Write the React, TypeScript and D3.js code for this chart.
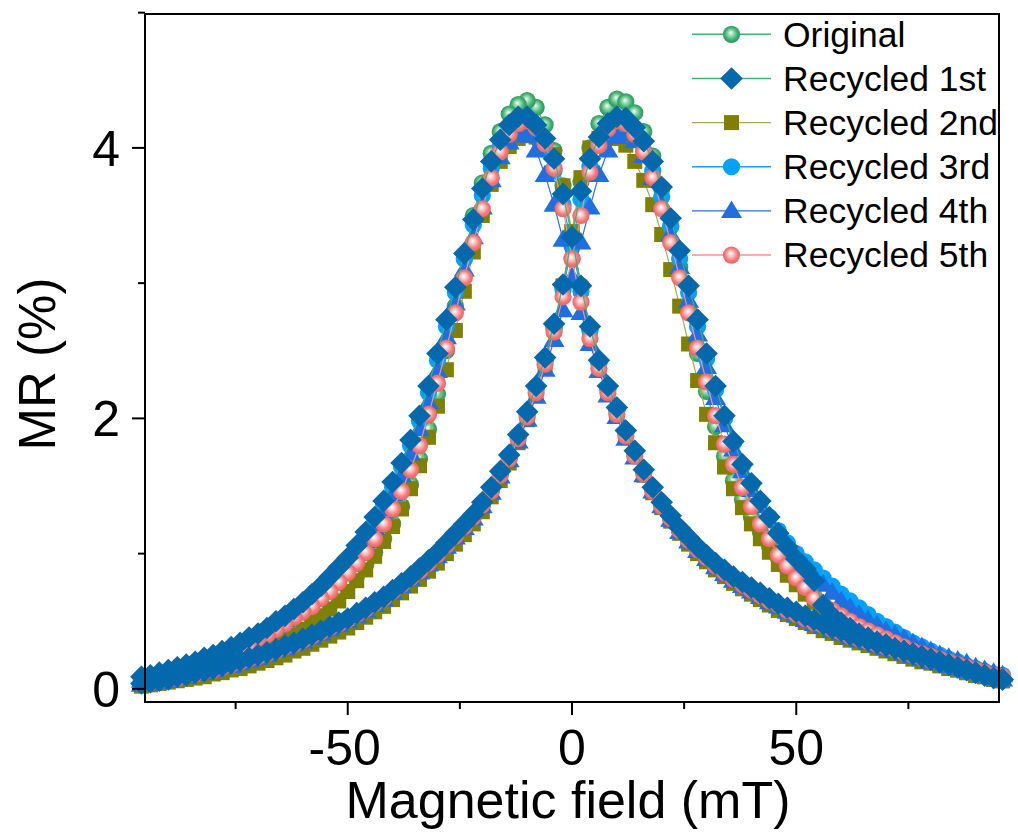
import React from 'react';
import * as d3 from 'd3';

// Magnetic field values (mT), one per sweep point
const FIELDS: number[] = d3.range(-96, 97, 2);

// MR (%) for each sample; "down" = branch peaking at negative field, "up" = branch peaking at positive field
// values listed for fields -96 ... 96 (ascending)
const ORIGINAL_DOWN = [0.06,0.07,0.09,0.11,0.12,0.14,0.16,0.18,0.20,0.22, 0.24,0.27,0.29,0.32,0.35,0.39,0.42,0.46,0.50,0.55, 0.60,0.65,0.71,0.77,0.84,0.92,1.01,1.11,1.22,1.35, 1.51,1.70,1.92,2.18,2.50,2.83,3.18,3.50,3.74,3.96, 4.12,4.25,4.32,4.35,4.30,4.17,3.98,3.72, 3.36, 2.98,2.66,2.41,2.22,2.06,1.90,1.75,1.61,1.48,1.36, 1.26,1.17,1.09,1.02,0.96,0.90,0.85,0.80,0.76,0.72, 0.68,0.64,0.60,0.57,0.54,0.51,0.48,0.45,0.43,0.40, 0.38,0.36,0.34,0.32,0.30,0.28,0.26,0.24,0.22,0.20, 0.18,0.17,0.15,0.13,0.11,0.10,0.08,0.07];
const ORIGINAL_UP = [0.04,0.05,0.06,0.07,0.08,0.09,0.11,0.12,0.14,0.16, 0.18,0.20,0.22,0.24,0.26,0.28,0.30,0.33,0.35,0.38, 0.41,0.44,0.47,0.50,0.54,0.58,0.62,0.66,0.71,0.76, 0.81,0.86,0.92,0.98,1.05,1.12,1.19,1.27,1.36,1.47, 1.59,1.72,1.87,2.04,2.23,2.43,2.67,2.97, 3.36, 3.75,4.00,4.18,4.30,4.36,4.34,4.26,4.12,3.94,3.70, 3.42,3.12,2.80,2.48,2.20,1.94,1.72,1.54,1.40,1.27, 1.16,1.06,0.97,0.89,0.81,0.74,0.68,0.62,0.57,0.52, 0.48,0.44,0.41,0.38,0.35,0.32,0.29,0.27,0.25,0.23, 0.21,0.19,0.17,0.15,0.13,0.11,0.09,0.08];

const REC1_DOWN = [0.09,0.10,0.12,0.14,0.16,0.18,0.20,0.23,0.25,0.28, 0.31,0.34,0.38,0.41,0.45,0.50,0.54,0.59,0.64,0.70, 0.76,0.83,0.90,0.97,1.06,1.16,1.27,1.39,1.53,1.67, 1.84,2.02,2.24,2.48,2.73,2.97,3.22,3.47,3.70,3.90, 4.06,4.17,4.23,4.23,4.17,4.07,3.92,3.66, 3.34, 2.98,2.68,2.43,2.24,2.08,1.91,1.76,1.62,1.49,1.38, 1.28,1.19,1.12,1.05,0.99,0.93,0.88,0.83,0.79,0.75, 0.71,0.67,0.63,0.60,0.57,0.54,0.51,0.48,0.45,0.43, 0.40,0.38,0.36,0.34,0.32,0.30,0.28,0.26,0.24,0.22, 0.20,0.18,0.16,0.14,0.12,0.10,0.08,0.07];
const REC1_UP = [0.04,0.05,0.06,0.07,0.09,0.10,0.12,0.13,0.15,0.17, 0.19,0.21,0.23,0.25,0.27,0.29,0.32,0.34,0.37,0.40, 0.43,0.46,0.49,0.52,0.56,0.60,0.64,0.68,0.73,0.78, 0.83,0.89,0.95,1.01,1.08,1.15,1.22,1.29,1.38,1.49, 1.61,1.73,1.88,2.05,2.24,2.45,2.70,2.99, 3.34, 3.68,3.92,4.08,4.18,4.23,4.22,4.15,4.05,3.90,3.71, 3.48,3.24,2.98,2.73,2.48,2.24,2.02,1.83,1.66,1.52, 1.39,1.27,1.15,1.05,0.96,0.89,0.80,0.62,0.54,0.49, 0.45,0.41,0.38,0.35,0.33,0.30,0.28,0.26,0.24,0.22, 0.20,0.18,0.16,0.14,0.12,0.10,0.08,0.07];

const REC2_DOWN = [0.04,0.05,0.06,0.08,0.09,0.11,0.12,0.14,0.16,0.18, 0.20,0.22,0.24,0.27,0.30,0.33,0.36,0.40,0.44,0.49, 0.54,0.59,0.65,0.72,0.80,0.88,0.98,1.09,1.20,1.33, 1.48,1.65,1.86,2.09,2.36,2.65,2.94,3.23,3.50,3.73, 3.90,4.01,4.07,4.09,4.08,4.03,3.95,3.72, 3.38, 2.96,2.65,2.40,2.20,2.04,1.87,1.72,1.58,1.45,1.34, 1.24,1.15,1.07,1.00,0.94,0.88,0.83,0.78,0.74,0.70, 0.66,0.62,0.58,0.55,0.52,0.49,0.46,0.43,0.41,0.38, 0.36,0.34,0.32,0.30,0.28,0.26,0.24,0.22,0.20,0.19, 0.17,0.15,0.14,0.12,0.10,0.09,0.07,0.06];
const REC2_UP = [0.02,0.03,0.04,0.05,0.06,0.07,0.08,0.09,0.11,0.12, 0.14,0.15,0.17,0.19,0.21,0.23,0.25,0.28,0.30,0.33, 0.36,0.39,0.42,0.45,0.49,0.53,0.57,0.61,0.66,0.71, 0.76,0.81,0.87,0.93,1.00,1.07,1.14,1.22,1.31,1.42, 1.54,1.67,1.82,1.99,2.18,2.40,2.66,2.98, 3.38, 3.78,4.00,4.07,4.09,4.07,4.02,3.90,3.76,3.58,3.36, 3.10,2.83,2.55,2.28,2.03,1.82,1.64,1.48,1.34,1.22, 1.11,1.01,0.92,0.84,0.77,0.70,0.64,0.59,0.54,0.49, 0.45,0.41,0.38,0.35,0.32,0.29,0.26,0.24,0.22,0.20, 0.18,0.16,0.14,0.12,0.10,0.09,0.07,0.06];

const REC3_DOWN = [0.08,0.09,0.11,0.13,0.15,0.17,0.19,0.22,0.24,0.27, 0.30,0.33,0.36,0.40,0.44,0.48,0.53,0.58,0.63,0.68, 0.74,0.81,0.88,0.95,1.04,1.13,1.24,1.36,1.49,1.64, 1.80,1.98,2.19,2.43,2.68,2.93,3.18,3.43,3.65,3.85, 4.01,4.11,4.16,4.16,4.10,3.99,3.83,3.58, 3.28, 2.94,2.65,2.41,2.22,2.06,1.90,1.75,1.61,1.48,1.37, 1.27,1.18,1.11,1.04,0.98,0.92,0.87,0.82,0.78,0.74, 0.70,0.66,0.62,0.59,0.56,0.53,0.50,0.47,0.44,0.42, 0.39,0.37,0.35,0.33,0.31,0.29,0.27,0.25,0.23,0.21, 0.19,0.17,0.15,0.13,0.11,0.10,0.08,0.07];
const REC3_UP = [0.04,0.05,0.06,0.07,0.08,0.10,0.11,0.13,0.15,0.16, 0.18,0.20,0.22,0.24,0.26,0.29,0.31,0.34,0.36,0.39, 0.42,0.45,0.48,0.52,0.55,0.59,0.63,0.67,0.72,0.77, 0.82,0.88,0.94,1.00,1.07,1.14,1.21,1.28,1.37,1.48, 1.60,1.72,1.87,2.03,2.22,2.43,2.67,2.95, 3.28, 3.62,3.86,4.02,4.12,4.16,4.15,4.08,3.98,3.83,3.64, 3.42,3.18,2.93,2.68,2.44,2.21,2.00,1.82,1.65,1.51, 1.38,1.27,1.17,1.08,1.00,0.94,0.88,0.82,0.76,0.70, 0.65,0.60,0.55,0.50,0.46,0.42,0.38,0.34,0.31,0.28, 0.25,0.22,0.20,0.17,0.15,0.13,0.11,0.10];

const REC4_DOWN = [0.06,0.07,0.09,0.11,0.13,0.15,0.17,0.20,0.22,0.25, 0.28,0.31,0.34,0.38,0.42,0.46,0.51,0.56,0.61,0.66, 0.72,0.78,0.85,0.92,1.00,1.09,1.19,1.31,1.44,1.58, 1.74,1.92,2.12,2.35,2.60,2.85,3.10,3.34,3.56,3.76, 3.93,4.04,4.10,4.09,3.98,3.80,3.58,3.32, 3.04, 2.78,2.55,2.35,2.17,2.01,1.85,1.71,1.58,1.46,1.35, 1.25,1.16,1.09,1.02,0.96,0.90,0.85,0.80,0.76,0.72, 0.68,0.64,0.61,0.57,0.54,0.51,0.48,0.46,0.43,0.41, 0.38,0.36,0.34,0.32,0.30,0.28,0.26,0.24,0.22,0.20, 0.19,0.17,0.15,0.13,0.12,0.10,0.08,0.07];
const REC4_UP = [0.03,0.04,0.05,0.06,0.08,0.09,0.11,0.12,0.14,0.16, 0.17,0.19,0.21,0.23,0.25,0.28,0.30,0.33,0.35,0.38, 0.41,0.44,0.47,0.50,0.54,0.58,0.62,0.66,0.71,0.76, 0.81,0.86,0.92,0.98,1.05,1.12,1.19,1.26,1.35,1.45, 1.57,1.69,1.83,1.99,2.16,2.36,2.58,2.80, 3.04, 3.30,3.56,3.80,3.98,4.08,4.10,4.05,3.94,3.78,3.58, 3.36,3.12,2.87,2.62,2.38,2.15,1.95,1.77,1.61,1.47, 1.35,1.24,1.14,1.05,0.97,0.90,0.83,0.77,0.71,0.65, 0.60,0.55,0.51,0.47,0.43,0.40,0.37,0.34,0.31,0.28, 0.25,0.23,0.21,0.19,0.16,0.14,0.12,0.10];

const REC5_DOWN = [0.08,0.09,0.11,0.13,0.15,0.17,0.19,0.21,0.23,0.25, 0.27,0.29,0.32,0.37,0.40,0.44,0.48,0.53,0.57,0.61, 0.67,0.72,0.79,0.86,0.93,1.01,1.11,1.22,1.33,1.46, 1.62,1.80,2.03,2.26,2.52,2.78,3.04,3.30,3.55,3.78, 3.97,4.10,4.18,4.20,4.15,4.03,3.85,3.55, 3.18, 2.86,2.59,2.37,2.19,2.03,1.87,1.72,1.59,1.46,1.35, 1.26,1.17,1.10,1.03,0.97,0.91,0.86,0.81,0.77,0.73, 0.69,0.65,0.62,0.58,0.55,0.52,0.49,0.47,0.44,0.42, 0.39,0.37,0.35,0.33,0.31,0.29,0.27,0.25,0.23,0.21, 0.20,0.18,0.16,0.14,0.12,0.10,0.09,0.08];
const REC5_UP = [0.04,0.05,0.06,0.07,0.08,0.10,0.11,0.13,0.14,0.16, 0.18,0.20,0.22,0.24,0.26,0.28,0.31,0.33,0.36,0.39, 0.42,0.45,0.48,0.51,0.55,0.59,0.63,0.67,0.72,0.77, 0.82,0.87,0.93,0.99,1.06,1.13,1.20,1.27,1.36,1.46, 1.58,1.70,1.85,2.01,2.19,2.40,2.64,2.90, 3.18, 3.50,3.82,4.02,4.14,4.20,4.18,4.10,3.97,3.78,3.55, 3.30,3.04,2.78,2.52,2.27,2.02,1.81,1.66,1.49,1.35, 1.22,1.11,0.99,0.91,0.82,0.75,0.67,0.62,0.58,0.54, 0.50,0.46,0.43,0.40,0.37,0.34,0.31,0.28,0.26,0.24, 0.22,0.20,0.18,0.16,0.14,0.12,0.10,0.09];

const SERIES_NAMES = ['Original', 'Recycled 1st', 'Recycled 2nd', 'Recycled 3rd', 'Recycled 4th', 'Recycled 5th'];
const X_TICKS = [-50, 0, 50];
const X_MINOR = [-75, -25, 25, 75];
const Y_TICKS = [0, 2, 4];
const Y_MINOR = [1, 3, 5];

type Shape = 'sphereG' | 'sphereP' | 'diamond' | 'square' | 'circle' | 'triangle';
interface Series { name: string; down: number[]; up: number[]; shape: Shape; fill: string; line: string; }

const SERIES: Series[] = [
  { name: SERIES_NAMES[0], down: ORIGINAL_DOWN, up: ORIGINAL_UP, shape: 'sphereG', fill: 'url(#gradGreen)', line: '#3cb371' },
  { name: SERIES_NAMES[1], down: REC1_DOWN, up: REC1_UP, shape: 'diamond', fill: '#0468ac', line: '#3cb371' },
  { name: SERIES_NAMES[2], down: REC2_DOWN, up: REC2_UP, shape: 'square', fill: '#808000', line: '#aaaa4e' },
  { name: SERIES_NAMES[3], down: REC3_DOWN, up: REC3_UP, shape: 'circle', fill: '#00a2ff', line: '#1e9cff' },
  { name: SERIES_NAMES[4], down: REC4_DOWN, up: REC4_UP, shape: 'triangle', fill: '#1f6fe0', line: '#2a6fe0' },
  { name: SERIES_NAMES[5], down: REC5_DOWN, up: REC5_UP, shape: 'sphereP', fill: 'url(#gradPink)', line: '#ff8f8f' },
];
const DRAW_ORDER = [0, 2, 3, 4, 5, 1];

const W = 1018, H = 837;
const PL = 145, PR = 999, PT = 14, PB = 702;
const FONT = '"Liberation Sans", Arial, Helvetica, sans-serif';

const xScale = d3.scaleLinear().domain([-95.2, 95.2]).range([PL, PR]);
const yScale = d3.scaleLinear().domain([-0.097, 4.99]).range([PB, PT]);

function Marker({ shape, fill, cx, cy }: { shape: Shape; fill: string; cx: number; cy: number }) {
  switch (shape) {
    case 'sphereG':
    case 'sphereP':
    case 'circle':
      return <circle cx={cx} cy={cy} r={8.6} fill={fill} />;
    case 'diamond': {
      const d = 11.3;
      return <polygon points={`${cx},${cy - d} ${cx + d},${cy} ${cx},${cy + d} ${cx - d},${cy}`} fill={fill} />;
    }
    case 'square':
      return <rect x={cx - 7.5} y={cy - 7.5} width={15} height={15} fill={fill} />;
    case 'triangle':
      return <polygon points={`${cx},${cy - 10.5} ${cx + 10.5},${cy + 7} ${cx - 10.5},${cy + 7}`} fill={fill} />;
  }
  return null;
}

export default function App() {
  const line = d3.line<[number, number]>().x(d => xScale(d[0])).y(d => yScale(d[1]));

  const seriesEls = DRAW_ORDER.map(si => {
    const s = SERIES[si];
    const downPts: [number, number][] = FIELDS.map((f, i) => [f, s.down[i]] as [number, number]).reverse();
    const upPts: [number, number][] = FIELDS.map((f, i) => [f, s.up[i]] as [number, number]);
    const all = [...downPts, ...upPts];
    return (
      <g key={s.name}>
        <path d={line(all) || ''} fill="none" stroke={s.line} strokeWidth={1.2} />
        {all.map((p, i) => (
          <Marker key={i} shape={s.shape} fill={s.fill} cx={xScale(p[0])} cy={yScale(p[1])} />
        ))}
      </g>
    );
  });

  const legendY0 = 34.3, legendDy = 44.15;

  return (
    <svg width={W} height={H} style={{ position: 'absolute', left: 0, top: 0, background: '#fff' }} fontFamily={FONT}>
      <defs>
        <radialGradient id="gradGreen" cx="0.5" cy="0.5" r="0.55" fx="0.45" fy="0.4">
          <stop offset="0" stopColor="#f2fff6" />
          <stop offset="0.3" stopColor="#9ad8b2" />
          <stop offset="0.65" stopColor="#3cb371" />
          <stop offset="1" stopColor="#2b8a55" />
        </radialGradient>
        <radialGradient id="gradPink" cx="0.5" cy="0.5" r="0.55" fx="0.45" fy="0.4">
          <stop offset="0" stopColor="#ffffff" />
          <stop offset="0.3" stopColor="#ffc4c4" />
          <stop offset="0.65" stopColor="#f87a7a" />
          <stop offset="1" stopColor="#e45e5e" />
        </radialGradient>
      </defs>
      <rect x={0} y={0} width={W} height={H} fill="#fff" />

      {seriesEls}

      {/* legend */}
      {SERIES.map((s, i) => {
        const cy = legendY0 + i * legendDy;
        return (
          <g key={'lg' + i}>
            <line x1={692} x2={771} y1={cy} y2={cy} stroke={s.line} strokeWidth={1.4} />
            <Marker shape={s.shape} fill={s.fill} cx={731.5} cy={cy} />
            <text x={783} y={cy + 12.4} fontSize={35.5} fill="#000">{s.name}</text>
          </g>
        );
      })}

      {/* frame */}
      <rect x={PL} y={PT} width={PR - PL} height={PB - PT} fill="none" stroke="#000" strokeWidth={2} />

      {/* x ticks */}
      {X_TICKS.map(t => (
        <g key={'xt' + t}>
          <line x1={xScale(t)} x2={xScale(t)} y1={PB} y2={PB + 13} stroke="#000" strokeWidth={2} />
          <text x={xScale(t) - (t < 0 ? 3 : 0)} y={765} fontSize={50} textAnchor="middle">{t < 0 ? '-' + Math.abs(t) : String(t)}</text>
        </g>
      ))}
      {X_MINOR.map(t => (
        <line key={'xm' + t} x1={xScale(t)} x2={xScale(t)} y1={PB} y2={PB + 7} stroke="#000" strokeWidth={2} />
      ))}

      {/* y ticks */}
      {Y_TICKS.map(t => (
        <g key={'yt' + t}>
          <line x1={PL - 13} x2={PL} y1={yScale(t)} y2={yScale(t)} stroke="#000" strokeWidth={2} />
          <text x={120} y={yScale(t) + 18} fontSize={50} textAnchor="end">{String(t)}</text>
        </g>
      ))}
      {Y_MINOR.map(t => (
        <line key={'ym' + t} x1={PL - 7} x2={PL} y1={yScale(t)} y2={yScale(t)} stroke="#000" strokeWidth={2} />
      ))}

      {/* axis titles */}
      <text x={568} y={818} fontSize={52} textAnchor="middle">Magnetic field (mT)</text>
      <text transform="translate(55,364) rotate(-90)" fontSize={51} textAnchor="middle">MR (%)</text>
    </svg>
  );
}
